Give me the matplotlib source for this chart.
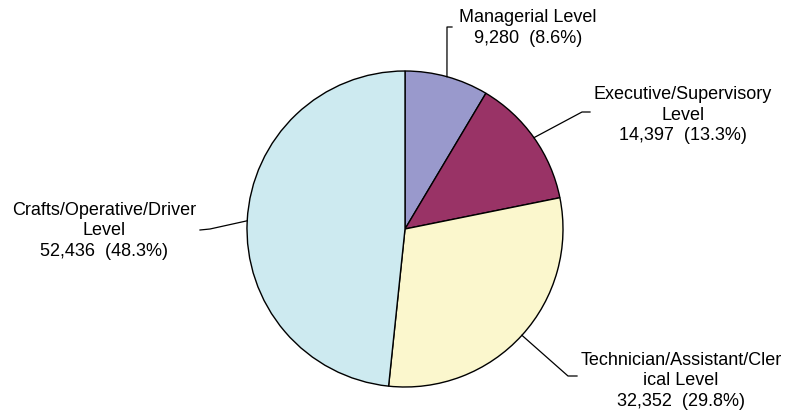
import numpy as np
import matplotlib.pyplot as plt

plt.rcParams['font.family'] = ['Liberation Sans', 'DejaVu Sans']

# data
categories = ['Managerial Level', 'Executive/Supervisory\nLevel',
              'Technician/Assistant/Cler\nical Level', 'Crafts/Operative/Driver\nLevel']
counts = [9280, 14397, 32352, 52436]
pct_labels = ['8.6%', '13.3%', '29.8%', '48.3%']
colors = ['#9999cc', '#993366', '#fbf7cd', '#cdeaf0']

# layout (pixel coords, y measured from top of image)
W, H = 789, 414
cx, cy, r = 405, 230, 158
label_pos = [(528, 28), (683, 115), (681, 381), (104, 231)]
elbows = [[(447, 28), (452, 28)],
          [(582, 113), (590, 113)],
          [(568, 377), (577, 377)],
          [(210, 230), (200, 231)]]

fig = plt.figure(figsize=(W / 100, H / 100), dpi=100)
ax = fig.add_axes([0, 0, 1, 1])

wedges, _ = ax.pie(counts, colors=colors, startangle=90, counterclock=False,
                   center=(cx, H - cy), radius=r,
                   wedgeprops=dict(edgecolor='black', linewidth=1.0))
ax.set_xlim(0, W)
ax.set_ylim(0, H)
ax.set_aspect('equal')
ax.axis('off')

for w, cat, n, p, (tx, ty), pts in zip(wedges, categories, counts, pct_labels,
                                       label_pos, elbows):
    mid = np.deg2rad((w.theta1 + w.theta2) / 2)
    x0 = cx + r * np.cos(mid)
    y0 = (H - cy) + r * np.sin(mid)
    xs = [x0] + [q[0] for q in pts]
    ys = [y0] + [H - q[1] for q in pts]
    ax.plot(xs, ys, color='black', linewidth=0.9)
    ax.text(tx, H - ty, f'{cat}\n{n:,}  ({p})', ha='center', va='center',
            fontsize=13, linespacing=1.3, color='black')

fig.savefig('out.png', dpi=100)
